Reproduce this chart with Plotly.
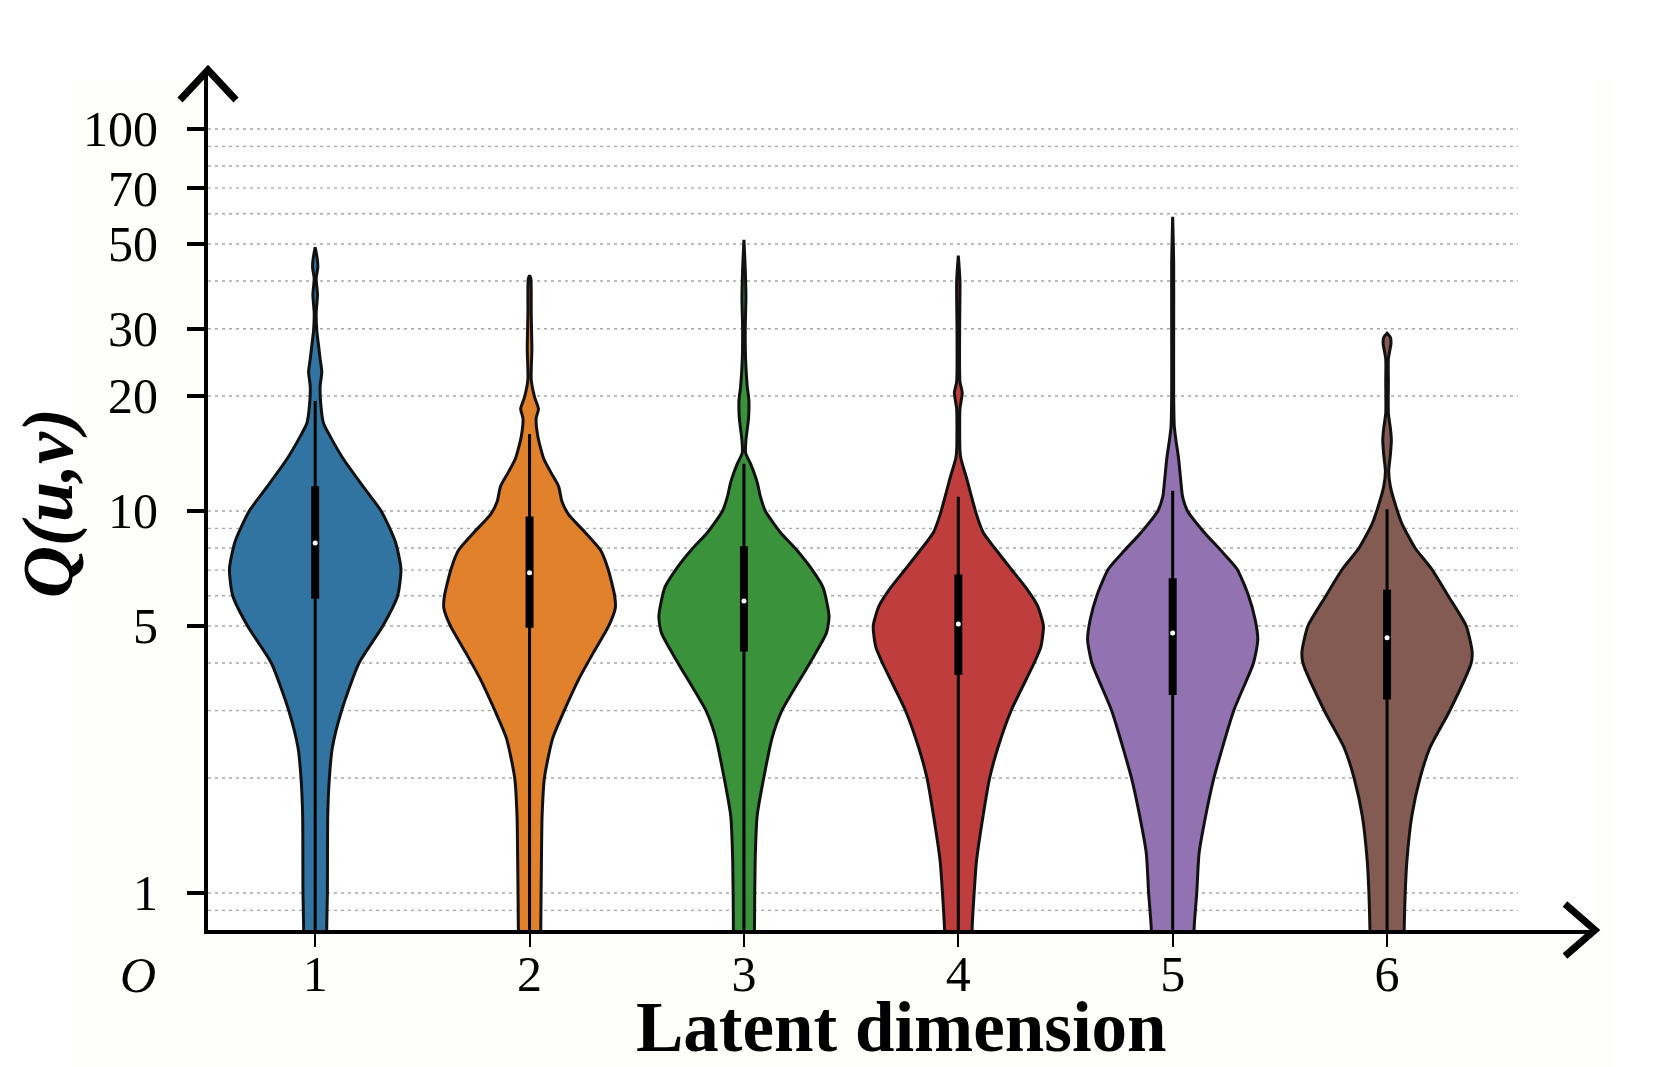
import numpy as np
import plotly.graph_objects as go

W, H = 1661, 1067
L, R, T, B = 208, 66, 70, 137

dims = [1, 2, 3, 4, 5, 6]
colors = ['#3274a1', '#e1812c', '#3a923a', '#c03d3e', '#9372b2', '#845b53']

# violin outlines: Q value -> relative half width (max 260)
vals1 = [0.6, 0.81, 1.0, 1.59, 2.0, 2.4, 3.0, 4.0, 5.0, 6.0, 7.05, 8.31, 10.0, 11.6, 13.7, 15.7,
         17.0, 19.0, 21.2, 23.1, 25.0, 27.2, 29.6, 33.0, 36.8, 40.6, 43.5, 45.9, 49.0]
w1 = [35, 35, 37, 38, 43, 52, 80, 133, 205, 250, 260, 243, 200, 145, 85, 45,
      25, 17, 15, 20, 15, 10, 5, 3, 7, 3, 8, 6, 0]
vals2 = [0.6, 0.81, 1.21, 1.59, 2.0, 2.54, 3.0, 3.64, 4.28, 5.0, 5.57, 6.0, 7.05, 7.9, 8.8, 9.8,
         10.6, 11.6, 12.6, 13.7, 15.7, 17.5, 18.5, 19.9, 22.1, 26.5, 33.0, 40.5, 41.4]
w2 = [34, 34, 36, 38, 45, 70, 105, 150, 195, 240, 260, 258, 238, 215, 168, 118,
      98, 88, 65, 43, 25, 20, 27, 15, 5, 7, 5, 4, 0]
vals3 = [0.6, 0.81, 1.21, 1.59, 2.0, 2.54, 3.0, 4.0, 4.79, 5.3, 6.3, 7.05, 7.9, 8.8, 10.0, 10.9,
         11.9, 13.3, 14.2, 15.3, 17.5, 19.5, 21.2, 25.0, 30.0, 36.0, 43.0, 51.3]
w3 = [32, 32, 34, 40, 60, 85, 115, 200, 250, 258, 240, 205, 160, 110, 65, 50,
      40, 20, 5, 6, 14, 15, 10, 5, 4, 6, 4, 0]
vals4 = [0.6, 0.81, 1.0, 1.21, 1.59, 2.0, 2.4, 3.0, 4.0, 4.4, 5.0, 5.65, 6.3, 7.05, 8.0, 8.8,
         9.8, 10.9, 12.2, 13.7, 14.4, 18.5, 20.4, 21.8, 30.0, 40.0, 46.6]
w4 = [42, 42, 48, 55, 75, 95, 120, 160, 230, 250, 258, 240, 205, 160, 110, 75,
      55, 40, 25, 8, 5, 5, 12, 5, 4, 5, 0]
vals5 = [0.6, 0.81, 1.0, 1.27, 1.59, 2.0, 3.0, 4.0, 4.6, 5.2, 6.0, 7.05, 7.9, 8.8, 10.0, 10.9,
         11.9, 13.7, 15.3, 16.6, 20.0, 30.0, 45.0, 58.9]
w5 = [65, 65, 73, 80, 100, 125, 185, 245, 258, 250, 230, 195, 145, 95, 45, 30,
      25, 18, 10, 5, 3, 3, 3, 0]
vals6 = [0.6, 0.81, 1.0, 1.21, 1.59, 2.0, 2.4, 3.0, 4.0, 4.28, 5.0, 6.0, 7.05, 8.0, 9.27, 10.4,
         11.6, 12.7, 14.0, 15.3, 16.5, 18.0, 21.8, 25.0, 27.5, 28.5, 29.2]
w6 = [52, 52, 55, 60, 75, 100, 130, 190, 255, 258, 240, 185, 135, 85, 45, 25,
      10, 5, 10, 13, 10, 4, 4, 4, 12, 10, 0]

profiles = [(vals1, w1), (vals2, w2), (vals3, w3), (vals4, w4), (vals5, w5), (vals6, w6)]

# inner box stats
whisk_lo = [0.6, 0.6, 0.6, 0.6, 0.6, 0.6]
q1 = [5.89, 4.95, 4.29, 3.72, 3.30, 3.21]
med = [8.25, 6.89, 5.81, 5.06, 4.79, 4.66]
q3 = [11.6, 9.68, 8.09, 6.82, 6.67, 6.22]
whisk_hi = [19.4, 15.9, 13.3, 10.9, 11.3, 10.1]

grid_vals = [0.9, 1, 2, 3, 4, 5, 6, 7, 8, 9, 10, 20, 30, 40, 50, 60, 70, 80, 90, 100]
tick_vals = [1, 5, 10, 20, 30, 50, 70, 100]

y_lo, y_hi = 0.8, 142.7
x_lo, x_hi = 0.5, 6.97


def px(x):
    return (x - L) / (W - L - R)


def py(y):
    return (H - B - y) / (H - T - B)


fig = go.Figure()

for k, (v, w), c in zip(dims, profiles, colors):
    half = 0.4 * np.array(w) / 260.0
    xs = np.concatenate([k + half, (k - half)[::-1]])
    ys = np.concatenate([np.array(v), np.array(v)[::-1]])
    fig.add_trace(go.Scatter(x=xs, y=ys, mode='lines', fill='toself', fillcolor=c,
                             line=dict(color='#111111', width=3, shape='spline', smoothing=0.6),
                             showlegend=False, hoverinfo='skip'))

for i, k in enumerate(dims):
    fig.add_trace(go.Scatter(x=[k, k], y=[whisk_lo[i], whisk_hi[i]], mode='lines',
                             line=dict(color='black', width=3), showlegend=False, hoverinfo='skip'))
    fig.add_trace(go.Scatter(x=[k, k], y=[q1[i], q3[i]], mode='lines',
                             line=dict(color='black', width=8), showlegend=False, hoverinfo='skip'))
    fig.add_trace(go.Scatter(x=[k], y=[med[i]], mode='markers',
                             marker=dict(color='white', size=5), showlegend=False, hoverinfo='skip'))

shapes = []
for g in grid_vals:
    shapes.append(dict(type='line', xref='x', yref='y', x0=0.5, x1=6.61, y0=g, y1=g,
                       layer='below', line=dict(color='#a8a8a8', width=1.3, dash='3px,4px')))

# white border around the off-white figure
for x0, x1, y0, y1 in [(0, W, 0, 80), (0, 72, 0, H), (1613, W, 0, H)]:
    shapes.append(dict(type='rect', xref='paper', yref='paper', x0=px(x0), x1=px(x1),
                       y0=py(y1), y1=py(y0), fillcolor='white', line=dict(width=0), layer='below'))

# arrow heads
shapes.append(dict(type='path', xref='paper', yref='paper', xsizemode='pixel', ysizemode='pixel',
                   xanchor=0, yanchor=1, path='M -28,-30 L 0,0 L 28,-30',
                   line=dict(color='black', width=7)))
shapes.append(dict(type='path', xref='paper', yref='paper', xsizemode='pixel', ysizemode='pixel',
                   xanchor=1, yanchor=0, path='M -30,26 L 0,0 L -30,-26',
                   line=dict(color='black', width=7)))

serif = 'Liberation Serif'

fig.update_layout(
    width=W, height=H, autosize=False,
    margin=dict(l=L, r=R, t=T, b=B, pad=0),
    paper_bgcolor='#fefefa',
    plot_bgcolor='white',
    shapes=shapes,
    hovermode=False,
    font=dict(family=serif, color='black'),
    xaxis=dict(range=[x_lo, x_hi], showgrid=False, zeroline=False,
               showline=True, linecolor='black', linewidth=4,
               tickmode='array', tickvals=dims, ticktext=[str(d) for d in dims],
               ticks='outside', ticklen=13, tickwidth=2, tickcolor='black',
               tickfont=dict(family=serif, size=50, color='black'), ticklabelstandoff=-16),
    yaxis=dict(type='log', range=[np.log10(y_lo), np.log10(y_hi)], showgrid=False, zeroline=False,
               showline=True, linecolor='black', linewidth=4,
               tickmode='array', tickvals=tick_vals, ticktext=[str(t) for t in tick_vals],
               ticks='outside', ticklen=17, tickwidth=3.5, tickcolor='black',
               tickfont=dict(family=serif, size=50, color='black'), ticklabelstandoff=19),
)

fig.add_annotation(text='<i>O</i>', xref='paper', yref='paper', x=px(138), y=py(975),
                   xanchor='center', yanchor='middle', showarrow=False,
                   font=dict(family=serif, size=50, color='black'))
fig.add_annotation(text='<b><i>Q(u,v)</i></b>', xref='paper', yref='paper', x=px(48), y=py(503),
                   xanchor='center', yanchor='middle', textangle=-90, showarrow=False,
                   font=dict(family=serif, size=72, color='black'))
fig.add_annotation(text='<b>Latent dimension</b>', xref='paper', yref='paper', x=px(901), y=py(1027),
                   xanchor='center', yanchor='middle', showarrow=False,
                   font=dict(family=serif, size=71, color='black'))

fig.write_html("out.html", config={'displayModeBar': False},
               post_script="document.body.style.margin='0px';")
